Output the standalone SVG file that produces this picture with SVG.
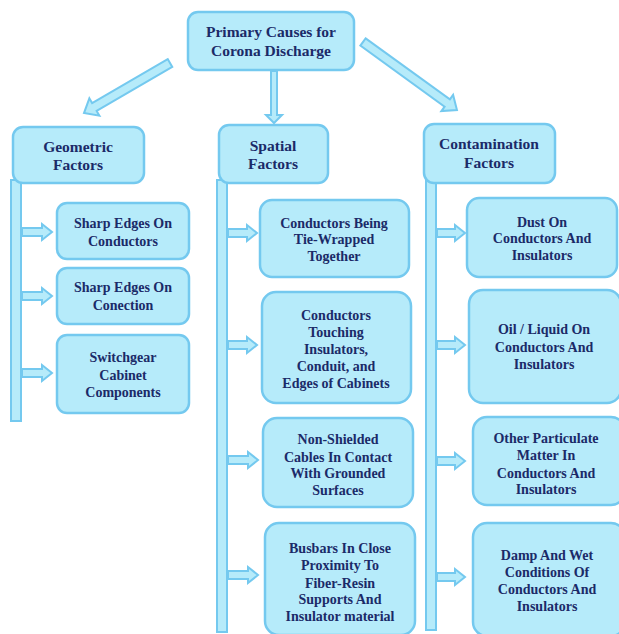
<svg xmlns="http://www.w3.org/2000/svg" width="619" height="634" viewBox="0 0 619 634">
<style>
.box{fill:#b6ebfa;stroke:#74c9ef;stroke-width:2.5}
.bar{fill:#b6ebfa;stroke:#74c9ef;stroke-width:2}
.arr{fill:#b6ebfa;stroke:#74c9ef;stroke-width:2;stroke-linejoin:miter}
text{font-family:"Liberation Serif","Times New Roman",serif;font-weight:bold;font-size:14px;fill:#1b2a68;text-anchor:middle}
text.h{font-size:15.5px}
</style>
<rect width="619" height="634" fill="#ffffff"/>
<g id="connectors">
<path class="arr" transform="translate(170,63) rotate(149.8)" d="M0,-4.5 L87.5,-4.5 L87.5,-10 L99.5,0 L87.5,10 L87.5,4.5 L0,4.5 Z"/>
<path class="arr" transform="translate(274,71) rotate(90)" d="M0,-3 L44,-3 L44,-8 L52,0 L44,8 L44,3 L0,3 Z"/>
<path class="arr" transform="translate(363,42) rotate(35.9)" d="M0,-4.5 L104,-4.5 L104,-10 L116,0 L104,10 L104,4.5 L0,4.5 Z"/>
<rect class="bar" x="11" y="180" width="10" height="241"/>
<rect class="bar" x="217" y="180" width="10" height="452"/>
<rect class="bar" x="426" y="180" width="10" height="450"/>
<path class="arr" d="M22,228 L42,228 L42,224 L52,232 L42,240 L42,236 L22,236 Z"/>
<path class="arr" d="M22,292 L42,292 L42,288 L52,296 L42,304 L42,300 L22,300 Z"/>
<path class="arr" d="M22,369 L42,369 L42,365 L52,373 L42,381 L42,377 L22,377 Z"/>
<path class="arr" d="M228,229 L247,229 L247,225 L257,233 L247,241 L247,237 L228,237 Z"/>
<path class="arr" d="M228,341 L247,341 L247,337 L257,345 L247,353 L247,349 L228,349 Z"/>
<path class="arr" d="M228,456 L248,456 L248,452 L258,460 L248,468 L248,464 L228,464 Z"/>
<path class="arr" d="M228,571 L248,571 L248,567 L258,575 L248,583 L248,579 L228,579 Z"/>
<path class="arr" d="M437,229 L455,229 L455,225 L465,233 L455,241 L455,237 L437,237 Z"/>
<path class="arr" d="M437,341 L455,341 L455,337 L465,345 L455,353 L455,349 L437,349 Z"/>
<path class="arr" d="M437,457 L455,457 L455,453 L465,461 L455,469 L455,465 L437,465 Z"/>
<path class="arr" d="M437,573 L455,573 L455,569 L465,577 L455,585 L455,581 L437,581 Z"/>
</g>
<g id="root">
<rect class="box" x="188" y="12" width="166" height="58" rx="10"/>
<text class="h" x="271" y="37">Primary Causes for</text>
<text class="h" x="271" y="56">Corona Discharge</text>
</g>
<g id="geometric">
<rect class="box" x="13" y="127" width="131" height="56" rx="10"/>
<text class="h" x="78" y="152">Geometric</text>
<text class="h" x="78" y="170">Factors</text>
</g>
<g id="spatial">
<rect class="box" x="219" y="125" width="109" height="58" rx="10"/>
<text class="h" x="273" y="151">Spatial</text>
<text class="h" x="273" y="169">Factors</text>
</g>
<g id="contamination">
<rect class="box" x="424" y="124" width="131" height="59" rx="10"/>
<text class="h" x="489" y="149">Contamination</text>
<text class="h" x="489" y="168">Factors</text>
</g>
<g id="g1">
<rect class="box" x="57" y="203" width="132" height="56" rx="10"/>
<text x="123" y="228">Sharp Edges On</text>
<text x="123" y="246">Conductors</text>
</g>
<g id="g2">
<rect class="box" x="57" y="268" width="132" height="56" rx="10"/>
<text x="123" y="292">Sharp Edges On</text>
<text x="123" y="310">Conection</text>
</g>
<g id="g3">
<rect class="box" x="57" y="335" width="132" height="78" rx="10"/>
<text x="123" y="362">Switchgear</text>
<text x="123" y="380">Cabinet</text>
<text x="123" y="397">Components</text>
</g>
<g id="s1">
<rect class="box" x="260" y="200" width="149" height="77" rx="12"/>
<text x="334" y="228">Conductors Being</text>
<text x="334" y="244">Tie-Wrapped</text>
<text x="334" y="261">Together</text>
</g>
<g id="s2">
<rect class="box" x="262" y="292" width="149" height="111" rx="14"/>
<text x="336" y="320">Conductors</text>
<text x="336" y="337">Touching</text>
<text x="336" y="354">Insulators,</text>
<text x="336" y="371">Conduit, and</text>
<text x="336" y="388">Edges of Cabinets</text>
</g>
<g id="s3">
<rect class="box" x="263" y="418" width="150" height="89" rx="14"/>
<text x="338" y="444">Non-Shielded</text>
<text x="338" y="462">Cables In Contact</text>
<text x="338" y="478">With Grounded</text>
<text x="338" y="495">Surfaces</text>
</g>
<g id="s4">
<rect class="box" x="265" y="523" width="150" height="112" rx="14"/>
<text x="340" y="553">Busbars In Close</text>
<text x="340" y="570">Proximity To</text>
<text x="340" y="588">Fiber-Resin</text>
<text x="340" y="604">Supports And</text>
<text x="340" y="621">Insulator material</text>
</g>
<g id="c1">
<rect class="box" x="467" y="198" width="150" height="79" rx="12"/>
<text x="542" y="227">Dust On</text>
<text x="542" y="243">Conductors And</text>
<text x="542" y="260">Insulators</text>
</g>
<g id="c2">
<rect class="box" x="469" y="290" width="152" height="113" rx="14"/>
<text x="544" y="334">Oil / Liquid On</text>
<text x="544" y="352">Conductors And</text>
<text x="544" y="369">Insulators</text>
</g>
<g id="c3">
<rect class="box" x="473" y="417" width="152" height="88" rx="14"/>
<text x="546" y="443">Other Particulate</text>
<text x="546" y="460">Matter In</text>
<text x="546" y="478">Conductors And</text>
<text x="546" y="494">Insulators</text>
</g>
<g id="c4">
<rect class="box" x="473" y="523" width="152" height="113" rx="14"/>
<text x="547" y="560">Damp And Wet</text>
<text x="547" y="577">Conditions Of</text>
<text x="547" y="594">Conductors And</text>
<text x="547" y="611">Insulators</text>
</g>
</svg>
